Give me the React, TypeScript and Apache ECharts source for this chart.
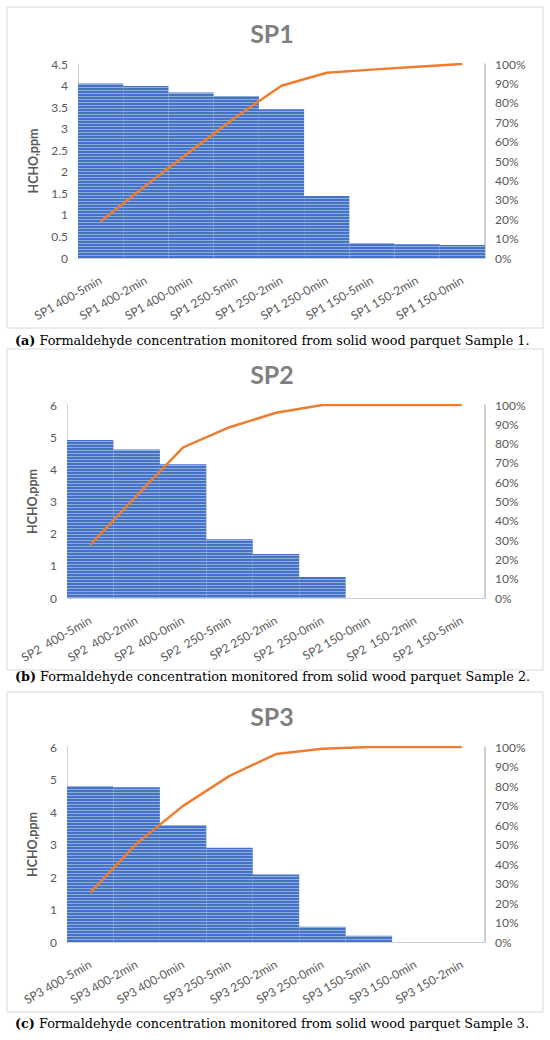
import React, { useEffect, useRef } from "react";
import * as echarts from "echarts";

const titles = ["SP1", "SP2", "SP3"];

const categories1 = [
  "SP1 400-5min", "SP1 400-2min", "SP1 400-0min", "SP1 250-5min", "SP1 250-2min",
  "SP1 250-0min", "SP1 150-5min", "SP1 150-2min", "SP1 150-0min",
];
const categories2 = [
  "SP2  400-5min", "SP2  400-2min", "SP2  400-0min", "SP2  250-5min", "SP2 250-2min",
  "SP2  250-0min", "SP2 150-0min", "SP2  150-2min", "SP2  150-5min",
];
const categories3 = [
  "SP3 400-5min", "SP3 400-2min", "SP3 400-0min", "SP3 250-5min", "SP3 250-2min",
  "SP3 250-0min", "SP3 150-5min", "SP3 150-0min", "SP3 150-2min",
];

const hcho1 = [4.05, 3.99, 3.84, 3.76, 3.45, 1.44, 0.34, 0.32, 0.3];
const hcho2 = [4.91, 4.62, 4.16, 1.83, 1.37, 0.65, 0, 0, 0];
const hcho3 = [4.79, 4.76, 3.59, 2.9, 2.08, 0.47, 0.19, 0, 0];

const cum1 = [18.8, 37.4, 55.3, 72.8, 88.8, 95.5, 97.1, 98.6, 100];
const cum2 = [27.5, 53, 78, 88.5, 96, 100, 100, 100, 100];
const cum3 = [25.3, 50.5, 69.8, 85.2, 96.4, 99.1, 100, 100, 100];

const leftMax = [4.5, 6, 6];
const leftInterval = [0.5, 1, 1];

const captions = [
  ["(a)", " Formaldehyde concentration monitored from solid wood parquet Sample 1."],
  ["(b)", " Formaldehyde concentration monitored from solid wood parquet Sample 2."],
  ["(c)", " Formaldehyde concentration monitored from solid wood parquet Sample 3."],
];

const FONT = "Lato";
const LABEL = "#595959";

export default function App() {
  const ref = useRef<HTMLDivElement>(null);
  useEffect(() => {
    if (!ref.current) return;
    const chart = echarts.init(ref.current, null, { renderer: "svg" });
    const cats = [categories1, categories2, categories3];
    const bars = [hcho1, hcho2, hcho3];
    const cums = [cum1, cum2, cum3];
    const grids = [
      { left: 78, width: 407, top: 64, height: 194 },
      { left: 67, width: 418, top: 405, height: 193 },
      { left: 67, width: 418, top: 747, height: 195 },
    ];
    const boxes = [
      { y: 7, h: 321 },
      { y: 349, h: 321 },
      { y: 692, h: 320 },
    ];
    const titleY = [33, 374, 716];
    const captionY = [340, 676, 1023];
    const nameGaps = [38, 27, 27];

    const xAxis: any[] = [];
    const yAxis: any[] = [];
    const series: any[] = [];
    const graphic: any[] = [];

    for (let i = 0; i < 3; i++) {
      xAxis.push({
        type: "category",
        gridIndex: i,
        data: cats[i],
        axisTick: { show: false },
        axisLine: { lineStyle: { color: "#d0d0d0", width: 1 } },
        axisLabel: {
          interval: 0,
          rotate: 30,
          margin: 21,
          color: LABEL,
          fontFamily: FONT,
          fontSize: 12,
        },
      });
      yAxis.push({
        type: "value",
        gridIndex: i,
        min: 0,
        max: leftMax[i],
        interval: leftInterval[i],
        name: "HCHO,ppm",
        nameLocation: "middle",
        nameGap: nameGaps[i],
        nameTextStyle: { color: LABEL, fontFamily: FONT, fontSize: 12.5, fontWeight: "bold" },
        axisLine: { show: true, lineStyle: { color: "#d0d0d0", width: 1 } },
        axisTick: { show: false },
        splitLine: { show: false },
        axisLabel: { color: LABEL, fontFamily: FONT, fontSize: 12, margin: 10 },
      });
      yAxis.push({
        type: "value",
        gridIndex: i,
        min: 0,
        max: 100,
        interval: 10,
        position: "right",
        axisLine: { show: true, lineStyle: { color: "#bfbfbf", width: 1.5 } },
        axisTick: { show: false },
        splitLine: { show: false },
        axisLabel: { color: LABEL, fontFamily: FONT, fontSize: 12, margin: 10, formatter: "{value}%" },
      });
      series.push({
        type: "bar",
        xAxisIndex: i,
        yAxisIndex: i * 2,
        data: bars[i],
        barCategoryGap: "0%",
        itemStyle: {
          color: "#4472C4",
          decal: {
            symbol: "rect",
            color: "rgba(255,255,255,0.42)",
            dashArrayX: [1, 0],
            dashArrayY: [1, 2],
            symbolSize: 1,
            rotation: 0,
          },
        },
      });
      series.push({
        type: "line",
        xAxisIndex: i,
        yAxisIndex: i * 2 + 1,
        data: cums[i],
        showSymbol: false,
        symbol: "none",
        lineStyle: { color: "#ED7D31", width: 2.5 },
        z: 5,
      });
      graphic.push({
        type: "rect",
        shape: { x: 7, y: boxes[i].y, width: 536, height: boxes[i].h },
        style: { fill: "#ffffff", stroke: "#d9d9d9", lineWidth: 1 },
        z: -10,
        silent: true,
      });
      graphic.push({
        type: "text",
        x: 272,
        y: titleY[i],
        style: {
          text: titles[i],
          fill: "#7f7f7f",
          font: "bold 25px Lato",
          align: "center",
          verticalAlign: "middle",
        },
      });
      graphic.push({
        type: "text",
        x: 15,
        y: captionY[i],
        style: {
          text: "{b|" + captions[i][0] + "}{n|" + captions[i][1] + "}",
          rich: {
            b: { fontFamily: "DejaVu Serif", fontSize: 12.8, fontWeight: "bold", fill: "#000" },
            n: { fontFamily: "DejaVu Serif", fontSize: 12.8, fill: "#000" },
          },
          verticalAlign: "middle",
        },
      });
    }

    chart.setOption({
      animation: false,
      backgroundColor: "#ffffff",
      grid: grids,
      xAxis,
      yAxis,
      series,
      graphic,
    });
    return () => chart.dispose();
  }, []);
  return (
    <div
      ref={ref}
      style={{ position: "absolute", left: 0, top: 0, width: 550, height: 1040 }}
    />
  );
}
